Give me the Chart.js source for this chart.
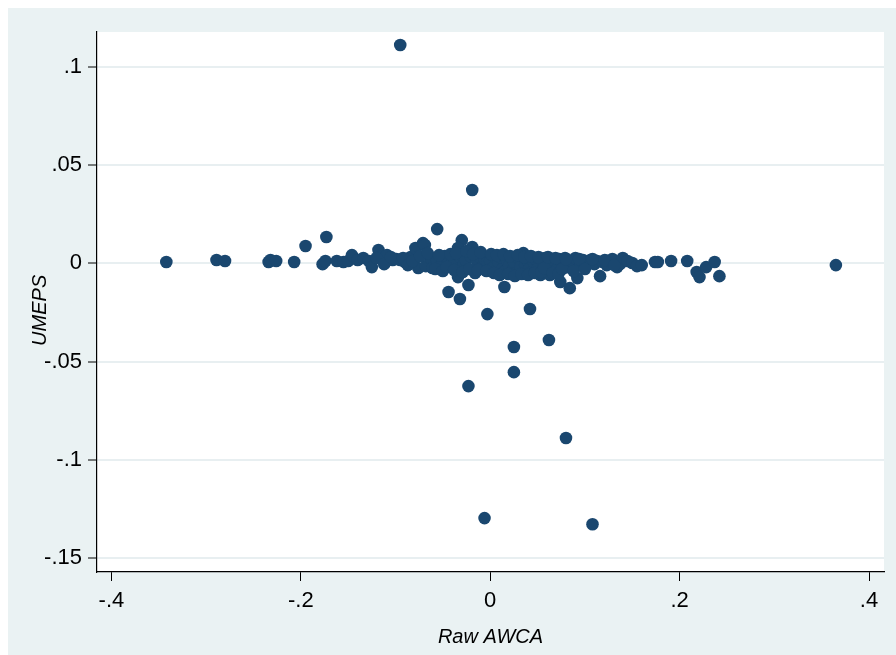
<!DOCTYPE html>
<html>
<head>
<meta charset="utf-8">
<script src="https://cdn.jsdelivr.net/npm/chart.js@4/dist/chart.umd.min.js"></script>
<style>
    body { margin: 0; background: #fff; }
    #wrap { position: absolute; left: 8px; top: 8px; width: 888px; height: 647px; background: #eaf2f3; }
</style>
</head>
<body>
<div id="wrap"><canvas id="scatter" width="888" height="647"></canvas></div>
<script>
// Raw AWCA (x) and UMEPS (y)
const awca = [
    -0.342, -0.289, -0.280, -0.234, -0.232, -0.226, -0.207, -0.195, -0.177, -0.174, -0.173,
    -0.162, -0.155, -0.150, -0.146, -0.140, -0.134, -0.128, -0.125, -0.118, -0.114, -0.109,
    -0.103, -0.099, -0.095, -0.090, -0.084, -0.079, -0.076, -0.071, -0.069, -0.068, -0.063,
    -0.061, -0.056, -0.052, -0.048, -0.044, -0.040, -0.037, -0.034, -0.032, -0.030, -0.034,
    -0.028, -0.026, -0.023, -0.021, -0.019, -0.016, -0.014, -0.011, -0.008, -0.006, -0.003,
    0.000, 0.003, 0.006, 0.009, 0.011, 0.013, 0.015, 0.016, 0.018, 0.020, 0.022, 0.024,
    0.025, 0.027, 0.030, 0.032, 0.035, 0.037, 0.039, 0.042, 0.044, 0.046, 0.048, 0.050,
    0.053, 0.055, 0.058, 0.060, 0.063, 0.065, 0.068, 0.070, 0.073, 0.074, 0.077, 0.079,
    0.082, 0.084, 0.086, 0.090, 0.092, 0.095, 0.098, 0.102, 0.106, 0.110, 0.113, 0.116,
    0.119, 0.123, 0.127, 0.129, 0.134, 0.137, 0.140, 0.145, 0.150, 0.155, 0.160,
    -0.120, -0.112, -0.105, -0.092, -0.087, -0.082, -0.074, -0.066, -0.058, -0.054, -0.050,
    -0.046, -0.042, -0.038, -0.036, -0.029, -0.025, -0.022, -0.018, -0.013, -0.010, -0.004,
    0.001, 0.004, 0.007, 0.010, 0.014, 0.019, 0.021, 0.026, 0.029, 0.033, 0.036, 0.040,
    0.043, 0.047, 0.051, 0.054, 0.057, 0.061, 0.066, 0.069, 0.072, 0.076, 0.080, 0.088,
    0.094, 0.100, 0.108, 0.121, 0.131,
    0.174, 0.177, 0.191, 0.208, 0.218, 0.221, 0.228, 0.237, 0.242, 0.365,
    -0.095, -0.019, -0.056, -0.044, -0.032, -0.003, 0.042, 0.025, 0.062, 0.025, -0.023,
    0.080, -0.006, 0.108
];
const umeps = [
    0.0007, 0.0017, 0.0012, 0.0007, 0.0017, 0.0012, 0.0007, 0.0088, -0.0004, 0.0012, 0.0134,
    0.0012, 0.0007, 0.0012, 0.0042, 0.0017, 0.0027, 0.0012, -0.0019, 0.0068, 0.0037, 0.0042,
    0.0017, 0.0022, 0.0017, 0.0007, 0.0032, 0.0078, -0.0024, 0.0103, 0.0093, -0.0014, 0.0027,
    -0.0024, 0.0012, -0.0009, 0.0037, 0.0002, 0.0022, 0.0007, -0.0070, 0.0032, 0.0118, 0.0078,
    -0.0009, 0.0017, -0.0110, 0.0037, 0.0083, -0.0049, 0.0012, 0.0032, -0.0019, 0.0022, 0.0007,
    0.0012, -0.0024, 0.0027, 0.0002, 0.0032, -0.0029, -0.0120, -0.0039, 0.0012, -0.0014, 0.0027, -0.0034,
    0.0007, -0.0049, 0.0027, -0.0019, 0.0052, -0.0009, 0.0017, -0.0024, -0.0044, 0.0007, 0.0022, -0.0029,
    -0.0059, 0.0012, 0.0027, -0.0014, -0.0059, 0.0017, 0.0002, -0.0034, 0.0022, -0.0095, 0.0007, 0.0027,
    -0.0019, -0.0126, 0.0012, 0.0027, -0.0075, -0.0009, 0.0017, 0.0007, 0.0017, -0.0004, 0.0012, -0.0065,
    0.0007, -0.0009, 0.0012, 0.0022, -0.0019, -0.0004, 0.0027, 0.0012, 0.0002, -0.0014, -0.0009,
    0.0027, -0.0004, 0.0032, 0.0027, -0.0009, 0.0012, 0.0037, 0.0052, -0.0029, 0.0042, -0.0039,
    -0.0019, 0.0047, -0.0034, 0.0052, -0.0044, 0.0062, -0.0029, 0.0047, -0.0034, 0.0057, -0.0039,
    0.0047, -0.0049, 0.0042, -0.0059, 0.0047, -0.0054, 0.0037, -0.0064, 0.0042, -0.0054, 0.0032, -0.0059,
    0.0037, -0.0049, 0.0032, -0.0044, -0.0024, 0.0032, -0.0049, 0.0027, -0.0054, -0.0029, 0.0022, -0.0039,
    0.0022, -0.0029, 0.0022, 0.0017, -0.0009,
    0.0007, 0.0007, 0.0012, 0.0012, -0.0044, -0.0070, -0.0019, 0.0007, -0.0065, -0.0009,
    0.1110, 0.0373, 0.0174, -0.0146, -0.0181, -0.0258, -0.0232, -0.0425, -0.0390, -0.0553, -0.0624,
    -0.0888, -0.1295, -0.1326
];
const xTicks = [-0.4, -0.2, 0, 0.2, 0.4];
const yTicks = [-0.15, -0.1, -0.05, 0, 0.05, 0.1];

const navy = '#1a476f';
const bg = '#e8eff1';
const font = 'Liberation Sans, Arial, Helvetica, sans-serif';

function fmt(v) {
    if (v === 0) return '0';
    return String(v).replace('0.', '.');
}

const points = awca.map((x, i) => ({x: x, y: umeps[i]}));

const ctx = document.getElementById('scatter');
const chart = new Chart(ctx, {
    type: 'scatter',
    data: {
        datasets: [{
            data: points,
            backgroundColor: navy,
            borderWidth: 0,
            pointRadius: 6.3,
            pointHoverRadius: 6.3
        }]
    },
    options: {
        responsive: false,
        animation: false,
        devicePixelRatio: 1,
        layout: {
            padding: {left: 0, top: 24, right: 12, bottom: 0}
        },
        plugins: {
            legend: {display: false},
            tooltip: {enabled: false}
        },
        scales: {
            x: {
                type: 'linear',
                min: -0.4152,
                max: 0.4158,
                afterBuildTicks: axis => { axis.ticks = xTicks.map(v => ({value: v})); },
                afterFit: axis => { axis.height = 83; },
                border: {color: '#000', width: 1.2},
                grid: {drawOnChartArea: false, tickColor: '#000', tickLength: 9, tickWidth: 1},
                ticks: {
                    color: '#000',
                    padding: 7,
                    maxRotation: 0,
                    font: {family: font, size: 22},
                    callback: v => fmt(v)
                },
                title: {
                    display: true,
                    text: 'Raw AWCA',
                    color: '#000',
                    padding: {top: 0, bottom: 6},
                    font: {family: font, size: 20, style: 'italic'}
                }
            },
            y: {
                type: 'linear',
                min: -0.1569,
                max: 0.1176,
                afterBuildTicks: axis => { axis.ticks = yTicks.map(v => ({value: v})); },
                afterFit: axis => { axis.width = 89; },
                border: {color: '#000', width: 1.2},
                grid: {color: bg, lineWidth: 2, tickColor: '#000', tickLength: 9, tickWidth: 1},
                ticks: {
                    color: '#000',
                    padding: 6,
                    font: {family: font, size: 22},
                    callback: v => fmt(v)
                },
                title: {
                    display: true,
                    text: 'UMEPS   ',
                    color: '#000',
                    padding: {top: 20, bottom: 0},
                    font: {family: font, size: 20, style: 'italic'}
                }
            }
        }
    },
    plugins: [{
        id: 'plotBg',
        beforeDraw: c => {
            const a = c.chartArea;
            c.ctx.save();
            c.ctx.fillStyle = '#fff';
            c.ctx.fillRect(a.left, a.top, a.right - a.left, a.bottom - a.top);
            c.ctx.restore();
        }
    }]
});
</script>
</body>
</html>
